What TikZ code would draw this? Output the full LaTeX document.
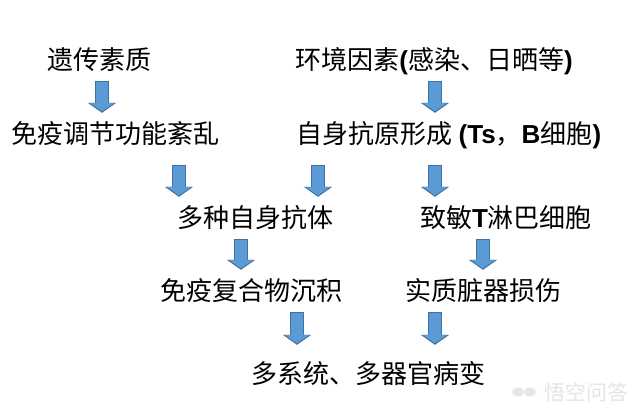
\documentclass[tikz,border=0pt]{standalone}
\usepackage{fontspec}
\setmainfont{Noto Sans CJK SC}
\newfontfamily\latfont{Liberation Sans}
\usepackage{xcolor}
\usetikzlibrary{arrows.meta}
\definecolor{arrowFill}{HTML}{5B9BD5}
\definecolor{arrowEdge}{HTML}{41719C}
\newcommand{\lat}[1]{{\latfont\bfseries #1}}
\tikzstyle{label} = [inner sep=0, minimum height=42pt, text height=22pt, text depth=3pt,
   font=\fontsize{26}{30}\selectfont]
\tikzstyle{vecArrow} = [draw=arrowEdge, line width=13.5pt,
   -{Triangle[length=10pt,width=28pt]},
   postaction = {draw=arrowFill, line width=11.5pt, shorten <=1pt, shorten >=1.5pt,
     -{Triangle[length=8.5pt,width=24.5pt]}}]

\begin{document}
\begin{tikzpicture}[x=1pt,y=-1pt]
  \useasboundingbox[fill=white] (0,0) rectangle (640,414);
  \node[label] (gene) at (99,60) {遗传素质};
  \node[label] (env) at (434,60) {环境因素\lat{(}感染、日晒等\lat{)}};
  \node[label] (immune) at (115,134) {免疫调节功能紊乱};
  \node[label] (selfag) at (449,134) {自身抗原形成 \lat{(Ts}，\lat{B}细胞\lat{)}};
  \node[label] (many) at (255,218) {多种自身抗体};
  \node[label] (sens) at (506,218) {致敏\lat{T}淋巴细胞};
  \node[label] (complex) at (251.5,291) {免疫复合物沉积};
  \node[label] (organ) at (483,291) {实质脏器损伤};
  \node[label] (lesion) at (368,374) {多系统、多器官病变};
  % watermark
  \node[inner sep=0, text=black!10, font=\fontsize{21}{24}\selectfont] (mark) at (586,392) {悟空问答};
  \fill[black!10] (518,392) ellipse [x radius=6, y radius=4.5];
  \fill[black!10] (530,392) ellipse [x radius=6, y radius=4.5];

  % arrows
  \draw[vecArrow] ([xshift=3]gene.south) -- ([xshift=-13]immune.north);
  \draw[vecArrow] ([xshift=1]env.south) -- ([xshift=-14]selfag.north);
  \draw[vecArrow] ([xshift=64,yshift=-10]immune.south) -- ([xshift=-76]many.north);
  \draw[vecArrow] ([xshift=-131,yshift=-10]selfag.south) -- ([xshift=63]many.north);
  \draw[vecArrow] ([xshift=-14,yshift=-10]selfag.south) -- ([xshift=-71]sens.north);
  \draw[vecArrow] ([xshift=-14]many.south) -- ([xshift=-10.5]complex.north);
  \draw[vecArrow] ([xshift=-23]sens.south) -- (organ.north);
  \draw[vecArrow] ([xshift=45.5]complex.south) -- ([xshift=-71,yshift=8]lesion.north);
  \draw[vecArrow] ([xshift=-48]organ.south) -- ([xshift=67,yshift=8]lesion.north);
\end{tikzpicture}
\end{document}
